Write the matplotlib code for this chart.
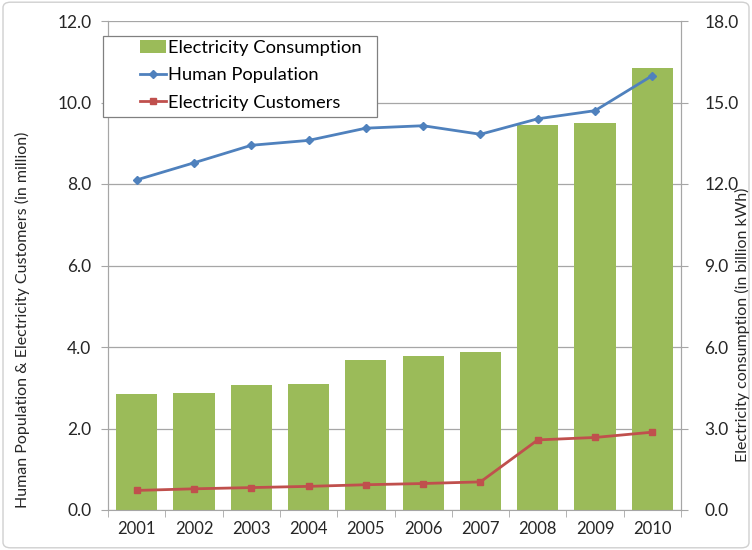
import matplotlib
matplotlib.use("Agg")
import matplotlib.pyplot as plt
from matplotlib.patches import FancyBboxPatch, Rectangle

years = ["2001", "2002", "2003", "2004", "2005", "2006", "2007", "2008", "2009", "2010"]
consumption = [4.27, 4.31, 4.60, 4.62, 5.52, 5.67, 5.82, 14.17, 14.25, 16.27]
population = [8.10, 8.52, 8.95, 9.07, 9.37, 9.43, 9.22, 9.60, 9.80, 10.66]
customers = [0.48, 0.52, 0.55, 0.58, 0.62, 0.65, 0.69, 1.72, 1.78, 1.91]
left_ticks = [0, 2, 4, 6, 8, 10, 12]
right_ticks = [0, 3, 6, 9, 12, 15, 18]

plt.rcParams['font.family'] = ['Lato', 'DejaVu Sans']
W, H = 752, 550

fig = plt.figure(figsize=(7.52, 5.50), dpi=100)
fig.patches.append(FancyBboxPatch((0.004, 0.004), 0.992, 0.992, boxstyle="round,pad=0,rounding_size=0.01",
                                  transform=fig.transFigure, fill=False, edgecolor="#d0d0d0", linewidth=1))
ax = fig.add_axes([108 / W, 1 - 510 / H, (681 - 108) / W, (510 - 21) / H])
ax2 = ax.twinx()
ax.set_zorder(ax2.get_zorder() + 1)
ax.patch.set_visible(False)

x = list(range(len(years)))
grid_c = "#a6a6a6"
text_c = "#262626"
for t in left_ticks:
    ax2.axhline(t * 1.5, color=grid_c, linewidth=0.9, zorder=0)
bars = ax2.bar(x, consumption, width=0.72, color="#9BBB59", zorder=2, label="Electricity Consumption")
l1, = ax.plot(x, population, color="#4F81BD", marker="D", markersize=4, linewidth=2, label="Human Population")
l2, = ax.plot(x, customers, color="#C0504D", marker="s", markersize=4, linewidth=2, label="Electricity Customers")

ax.set_xlim(-0.5, len(years) - 0.5)
ax.set_ylim(0, 12)
ax2.set_ylim(0, 18)
ax.set_yticks(left_ticks)
ax.set_yticklabels([f"{v:.1f}" for v in left_ticks], fontsize=12.5, color=text_c)
ax2.set_yticks(right_ticks)
ax2.set_yticklabels([f"{v:.1f}" for v in right_ticks], fontsize=12.5, color=text_c)
ax.set_xticks(x)
ax.set_xticklabels(years, fontsize=12, color=text_c)
ax.set_xticks([i + 0.5 for i in range(-1, len(years))], minor=True)
ax.tick_params(axis='x', which='major', length=0, pad=8)
ax.tick_params(axis='x', which='minor', length=5, color=grid_c)
ax.tick_params(axis='y', length=5, color=grid_c, pad=7)
ax2.tick_params(axis='y', length=5, color=grid_c, pad=12)
for a in (ax, ax2):
    a.spines["top"].set_visible(False)
    for s in ("left", "right", "bottom"):
        a.spines[s].set_color(grid_c)
ax2.spines["bottom"].set_visible(False)

fig.text(22 / W, 1 - 320 / H, "Human Population & Electricity Customers (in million)", rotation=90,
         fontsize=11.5, ha="center", va="center", color=text_c)
fig.text(742 / W, 1 - 325 / H, "Electricity consumption (in billion kWh)", rotation=90, fontsize=11.5,
         ha="center", va="center", color=text_c)

# legend frame drawn manually to match Excel padding
fig.patches.append(Rectangle((103 / W, 1 - 117 / H), (377 - 103) / W, (117 - 36) / H,
                             transform=fig.transFigure, fill=True, facecolor="white",
                             edgecolor="#808080", linewidth=0.9, zorder=5))
leg = fig.legend([bars, l1, l2], ["Electricity Consumption", "Human Population", "Electricity Customers"],
                 loc="upper left", bbox_to_anchor=(140 / W, 1 - 40 / H), bbox_transform=fig.transFigure,
                 fontsize=13.2, frameon=False, handlelength=1.4, handletextpad=0.15, borderpad=0.0,
                 labelspacing=0.62, borderaxespad=0)
leg.set_zorder(6)

fig.savefig("out.png", dpi=100)
